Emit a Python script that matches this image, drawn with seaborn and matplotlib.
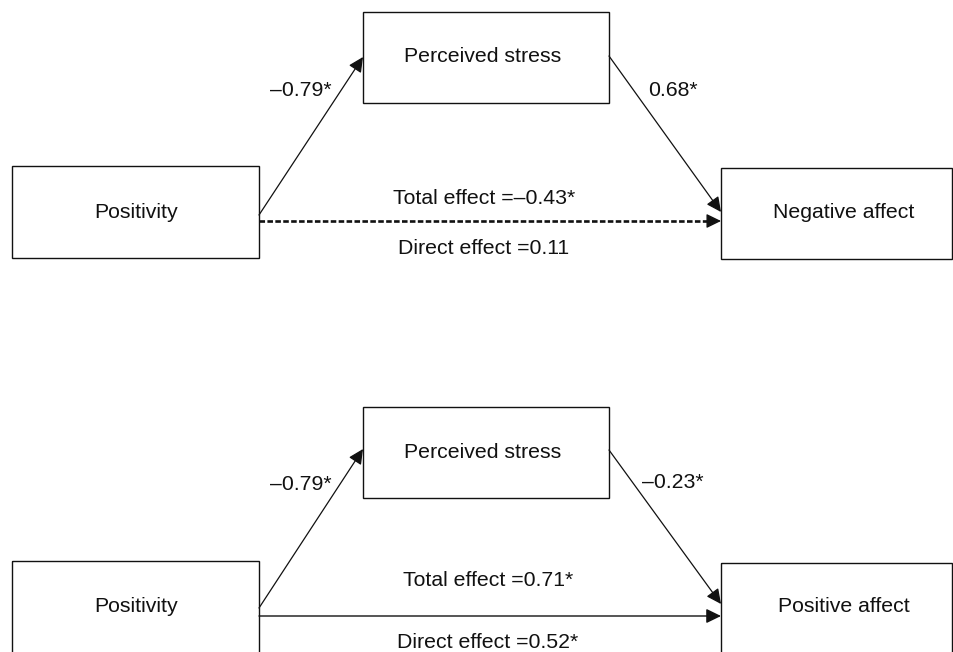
import matplotlib
matplotlib.use("Agg")
import matplotlib.pyplot as plt
import seaborn as sns
from matplotlib.patches import Rectangle

sns.set_theme(style="white")
plt.rcParams['font.family'] = ['Liberation Sans', 'DejaVu Sans']

# ---- data ----
predictor = "Positivity"
mediator = "Perceived stress"
outcomes = ["Negative affect", "Positive affect"]
path_a = ["\u20130.79*", "\u20130.79*"]
path_b = ["0.68*", "\u20130.23*"]
total_effect = ["\u20130.43*", "0.71*"]
direct_effect = ["0.11", "0.52*"]
direct_dashed = [True, False]

# ---- layout (pixels) ----
W, H = 954, 652
fig = plt.figure(figsize=(W / 100, H / 100), dpi=100)
ax = fig.add_axes([0, 0, 1, 1])
ax.set_xlim(0, W)
ax.set_ylim(H, 0)
ax.axis("off")

FS = 15.3
LW_BOX = 1.0
INK = "#111111"
panel_offset = [0, 395]

def box(x0, y0, x1, y1, label, tx, ty):
    ax.add_patch(Rectangle((x0, y0), x1 - x0, y1 - y0, fill=False,
                           edgecolor=INK, lw=LW_BOX, clip_on=True))
    ax.text(tx, ty, label, ha="center", va="center", fontsize=FS, color=INK)

HEAD = "-|>,head_length=0.45,head_width=0.22"

def arrow(p0, p1, ls="-", lw=0.9):
    if ls == "-":
        ax.annotate("", xy=p1, xytext=p0,
                    arrowprops=dict(arrowstyle=HEAD, mutation_scale=20, lw=lw,
                                    color=INK, shrinkA=0, shrinkB=0))
    else:
        hx = p1[0] - 12
        ax.plot([p0[0], hx], [p0[1], p1[1]], color=INK, lw=lw,
                ls=(0, (2.1, 0.9)), solid_capstyle="butt")
        ax.annotate("", xy=p1, xytext=(hx, p1[1]),
                    arrowprops=dict(arrowstyle=HEAD, mutation_scale=20, lw=0.9,
                                    color=INK, shrinkA=0, shrinkB=0))

for i in range(2):
    dy = panel_offset[i]
    box(12, 166 + dy, 259, 258 + dy if i == 0 else 700, predictor, 136, 212 + dy)
    box(363, 12 + dy, 609, 103 + dy, mediator, 483, 57 + dy)
    box(721, 168 + dy, 952, 259 + dy if i == 0 else 700, outcomes[i], 844, 212 + dy)
    arrow((259, 215 + dy - (2 if i else 0)), (363, 57 + dy - (3 if i else 0)))
    arrow((609, 56 + dy - (1 if i else 0)), (721, 212 + dy - (3 if i else 0)))
    if direct_dashed[i]:
        arrow((259, 221 + dy), (721, 221 + dy), ls="--", lw=1.9)
    else:
        arrow((259, 221 + dy), (721, 221 + dy), lw=1.0)
    ax.text(301, 91 + dy - (1 if i else 0), path_a[i], ha="center", va="center",
            fontsize=FS, color=INK)
    ax.text(673, 91 + dy - (3 if i else 0), path_b[i], ha="center", va="center",
            fontsize=FS, color=INK)
    ax.text(484 if i == 0 else 488, 198 + dy - (12 if i else 0),
            "Total effect =" + total_effect[i], ha="center", va="center",
            fontsize=FS, color=INK)
    ax.text(484 if i == 0 else 488, 248 + dy,
            "Direct effect =" + direct_effect[i], ha="center", va="center",
            fontsize=FS, color=INK)

fig.savefig("out.png", dpi=100)
